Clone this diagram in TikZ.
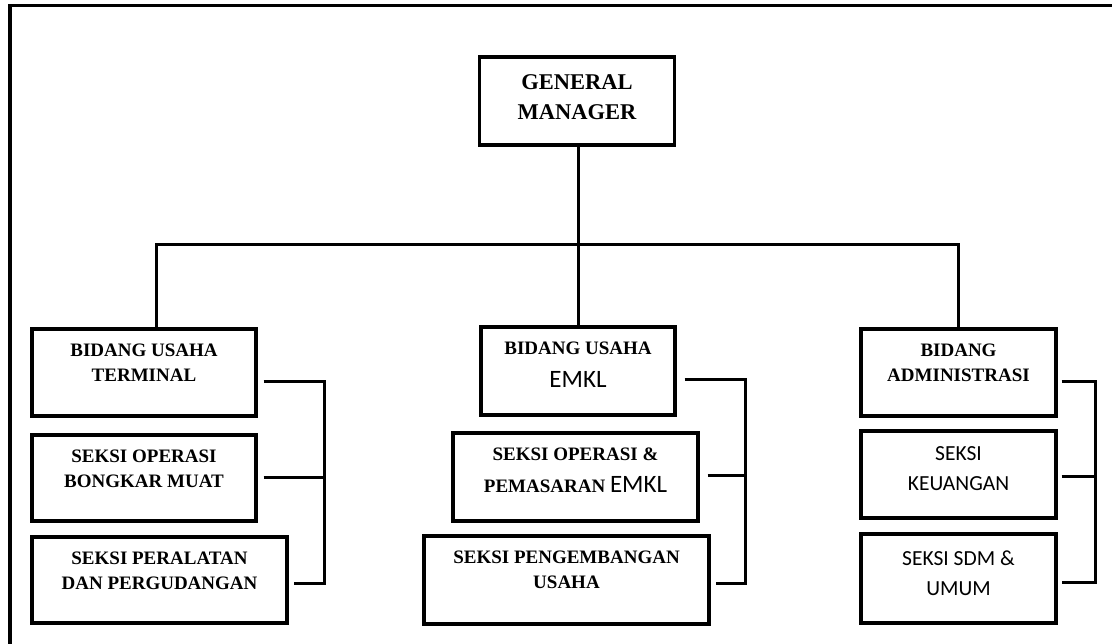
\documentclass[tikz,border=0pt]{standalone}
\usepackage{fontspec}
\setmainfont{Liberation Serif}
\newfontfamily\calib{Carlito}
\begin{document}
\begin{tikzpicture}[x=1pt,y=-1pt,
  box/.style 2 args={draw,line width=3.2pt,inner sep=0pt,minimum width=#1,minimum height=#2},
  lbl/.style={inner sep=0pt,anchor=north,align=center,font=\fontsize{19}{25}\selectfont\bfseries},
  lblsans/.style={inner sep=0pt,anchor=north,align=center,font=\calib\fontsize{21.5}{30}\selectfont},
  conn/.style={line width=3pt},
  frame/.style={line width=3.5pt}]
\useasboundingbox (0,0) rectangle (1112,644);
% outer frame (only top and left edges are visible)
\coordinate (fbl) at (10,644);
\coordinate (ftl) at (10,5.5);
\coordinate (ftr) at (1112,5.5);
\draw[frame] (fbl) -- (ftl) -- (ftr);

% boxes
\node[box={195}{88}] (gm) at (577,101) {};
\node[box={224}{87}] (t1) at (144,372.5) {};
\node[box={224}{86}] (t2) at (144,478) {};
\node[box={255}{86}] (t3) at (159.5,580) {};
\node[box={194}{88}] (e1) at (578,371) {};
\node[box={245}{88}] (e2) at (575.5,477) {};
\node[box={285}{88}] (e3) at (566.5,580) {};
\node[box={195}{87}] (a1) at (958.5,372.5) {};
\node[box={195}{87}] (a2) at (958.5,474.5) {};
\node[box={195}{89}] (a3) at (958.5,578.5) {};

% texts
\node[lbl,font=\fontsize{22.5}{30}\selectfont\bfseries] (gmt) at ([yshift=-19pt]gm.north) {GENERAL\\MANAGER};
\node[lbl] (t1t) at ([yshift=-16pt]t1.north) {BIDANG USAHA\\TERMINAL};
\node[lbl] (t2t) at ([yshift=-16pt]t2.north) {SEKSI OPERASI\\BONGKAR MUAT};
\node[lbl] (t3t) at ([yshift=-16pt]t3.north) {SEKSI PERALATAN\\DAN PERGUDANGAN};
\node[lbl,font=\fontsize{19}{33}\selectfont\bfseries] (e1t) at ([yshift=-16pt]e1.north)
  {BIDANG USAHA\\{\calib\mdseries\fontsize{25}{33}\selectfont EMKL}};
\node[lbl,font=\fontsize{19}{32}\selectfont\bfseries] (e2t) at ([yshift=-16pt]e2.north)
  {SEKSI OPERASI \&\\PEMASARAN {\calib\mdseries\fontsize{25}{32}\selectfont EMKL}};
\node[lbl] (e3t) at ([yshift=-16pt]e3.north) {SEKSI PENGEMBANGAN\\USAHA};
\node[lbl] (a1t) at ([yshift=-16pt]a1.north) {BIDANG\\ADMINISTRASI};
\node[lblsans] (a2t) at ([yshift=-17pt]a2.north) {SEKSI\\KEUANGAN};
\node[lblsans] (a3t) at ([yshift=-18pt]a3.north) {SEKSI SDM \&\\UMUM};

% main tree
\coordinate (busL) at (156,244.5);
\coordinate (busR) at (958,244.5);
\draw[conn] (gm.south -| e1.north) -- (e1.north);
\draw[conn] (t1.north -| busL) -- (busL) -- (busR) -- (a1.north -| busR);

% bracket stub start points
\coordinate (t1s) at ([shift={(6,9.5)}]t1.east);
\coordinate (t2s) at ([shift={(6,-1)}]t2.east);
\coordinate (t3s) at ([shift={(5,3)}]t3.east);
\coordinate (e1s) at ([shift={(8,9)}]e1.east);
\coordinate (e2s) at ([shift={(8,-2)}]e2.east);
\coordinate (e3s) at ([shift={(5,3)}]e3.east);
\coordinate (a1s) at ([shift={(4,9.5)}]a1.east);
\coordinate (a2s) at ([shift={(4,1.5)}]a2.east);
\coordinate (a3s) at ([shift={(4,3.5)}]a3.east);
% bracket spines
\coordinate (lbr) at (324,480);
\coordinate (mbr) at (745,480);
\coordinate (rbr) at (1095,480);
\draw[conn] (t1s) -| (lbr) |- (t3s);
\draw[conn] (t2s) -- (t2s -| lbr);
\draw[conn] (e1s) -| (mbr) |- (e3s);
\draw[conn] (e2s) -- (e2s -| mbr);
\draw[conn] (a1s) -| (rbr) |- (a3s);
\draw[conn] (a2s) -- (a2s -| rbr);
\end{tikzpicture}
\end{document}
